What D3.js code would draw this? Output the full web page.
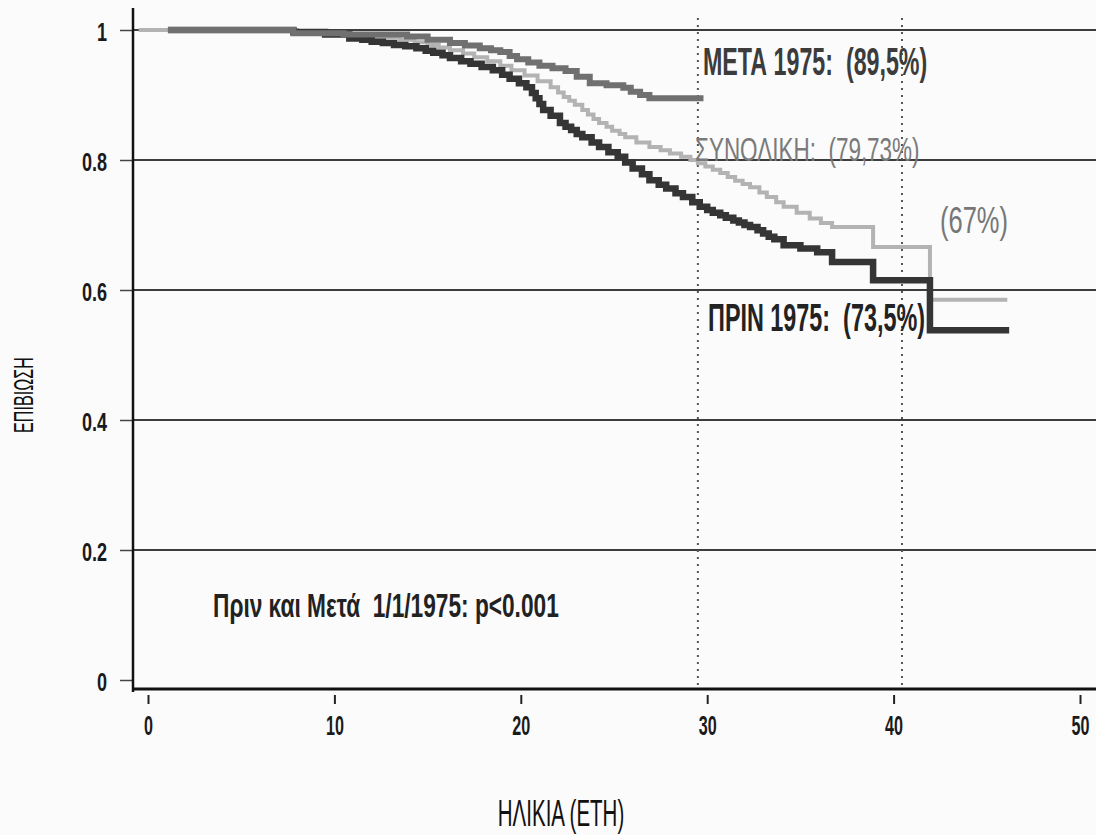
<!DOCTYPE html>
<html>
<head>
<meta charset="UTF-8" />
<title>Επιβίωση κατά ηλικία</title>
<script src="https://cdn.jsdelivr.net/npm/d3@7"></script>
<style>
    body { margin: 0; background: #fbfbfb; }
    svg { display: block; }
    text { font-family: "Liberation Sans", Arial, sans-serif; white-space: pre; }
</style>
</head>
<body>
<div id="chart"></div>
<script>
    // Kaplan-Meier curves (age in years, survival fraction)
    const totalAges = [-0.5, 8.0, 9.5, 10.8, 12.2, 13.5, 14.3, 15.0, 15.6, 16.2, 16.9, 17.5, 18.2, 18.9, 19.5, 20.2, 20.9, 21.6, 22.0, 22.3, 22.6, 22.9, 23.3, 23.6, 23.9, 24.2, 24.6, 24.9, 25.3, 25.6, 26.2, 26.9, 27.5, 28.0, 28.6, 29.1, 29.5, 29.9, 30.3, 30.7, 31.1, 31.5, 31.9, 32.3, 32.8, 33.2, 33.7, 34.1, 34.8, 35.5, 36.1, 36.7, 38.9, 41.95, 46.1];
    const totalSurv = [1.0, 0.997, 0.995, 0.993, 0.989, 0.985, 0.981, 0.977, 0.973, 0.969, 0.964, 0.958, 0.952, 0.945, 0.938, 0.93, 0.921, 0.912, 0.904, 0.897, 0.891, 0.885, 0.877, 0.87, 0.863, 0.857, 0.851, 0.845, 0.84, 0.835, 0.827, 0.82, 0.815, 0.81, 0.805, 0.80, 0.795, 0.79, 0.785, 0.78, 0.774, 0.768, 0.763, 0.758, 0.75, 0.743, 0.735, 0.728, 0.719, 0.71, 0.703, 0.697, 0.666, 0.585, 0.585];

    const beforeAges = [1.07, 7.8, 9.5, 10.8, 11.5, 12.0, 12.6, 13.2, 13.8, 14.4, 14.9, 15.3, 15.8, 16.2, 16.8, 17.3, 17.9, 18.5, 19.0, 19.4, 19.9, 20.3, 20.6, 20.8, 21.0, 21.2, 21.6, 22.1, 22.4, 22.7, 23.0, 23.3, 23.8, 24.2, 24.7, 25.2, 25.6, 26.0, 26.5, 26.9, 27.4, 27.8, 28.3, 28.7, 29.2, 29.6, 30.0, 30.3, 30.7, 31.0, 31.4, 31.7, 32.0, 32.3, 32.7, 33.0, 33.3, 33.6, 34.1, 35.0, 35.9, 36.7, 38.9, 41.95, 46.2];
    const beforeSurv = [1.0, 0.997, 0.993, 0.987, 0.985, 0.982, 0.98, 0.977, 0.975, 0.972, 0.968, 0.965, 0.961, 0.957, 0.952, 0.948, 0.943, 0.938, 0.931, 0.925, 0.918, 0.912, 0.903, 0.895, 0.886, 0.877, 0.868, 0.857, 0.851, 0.846, 0.84, 0.835, 0.827, 0.82, 0.812, 0.805, 0.796, 0.787, 0.778, 0.769, 0.762, 0.756, 0.749, 0.743, 0.735, 0.728, 0.723, 0.719, 0.715, 0.711, 0.707, 0.704, 0.70, 0.697, 0.692, 0.687, 0.682, 0.678, 0.669, 0.664, 0.658, 0.643, 0.615, 0.538, 0.538];

    const afterAges = [1.07, 7.8, 10.5, 13.9, 15.0, 16.2, 17.0, 17.8, 18.4, 18.9, 19.4, 19.8, 20.4, 21.0, 21.7, 22.4, 23.0, 23.7, 24.6, 25.5, 25.9, 26.4, 26.9, 29.8];
    const afterSurv = [1.0, 0.995, 0.993, 0.99, 0.985, 0.98, 0.976, 0.972, 0.969, 0.966, 0.96, 0.955, 0.95, 0.945, 0.941, 0.937, 0.928, 0.918, 0.915, 0.911, 0.905, 0.9, 0.895, 0.895];

    const xTicks = [0, 10, 20, 30, 40, 50];
    const yTicks = [0, 0.2, 0.4, 0.6, 0.8, 1];
    const yTickLabels = ["0", "0.2", "0.4", "0.6", "0.8", "1"];
    const markerAges = [29.5, 40.45];

    const labelAfter = "ΜΕΤΑ 1975:  (89,5%)";
    const labelTotal = "ΣΥΝΟΛΙΚΗ:  (79,73%)";
    const labelTotalEnd = "(67%)";
    const labelBefore = "ΠΡΙΝ 1975:  (73,5%)";
    const labelTest = "Πριν και Μετά  1/1/1975: p<0.001";
    const xTitle = "ΗΛΙΚΙΑ (ΕΤΗ)";
    const yTitle = "ΕΠΙΒΙΩΣΗ";

    const w = 1096;
    const h = 835;

    const x = d3.scaleLinear().domain([0, 50]).range([148, 1080]);
    const y = d3.scaleLinear().domain([0, 1]).range([680, 30]);

    const axisX = 133;
    const axisY = 689;

    const svg = d3.select('#chart')
        .append('svg')
        .attr('width', w)
        .attr('height', h);

    // horizontal grid lines
    svg.append('g')
        .selectAll('line')
        .data(yTicks.filter(d => d > 0))
        .enter()
        .append('line')
        .attr('x1', axisX)
        .attr('x2', w)
        .attr('y1', d => y(d))
        .attr('y2', d => y(d))
        .attr('stroke', '#3d3d3d')
        .attr('stroke-width', 1.8);

    // dotted marker lines
    svg.append('g')
        .selectAll('line')
        .data(markerAges)
        .enter()
        .append('line')
        .attr('x1', d => x(d))
        .attr('x2', d => x(d))
        .attr('y1', 18)
        .attr('y2', axisY)
        .attr('stroke', '#555')
        .attr('stroke-width', 2)
        .attr('stroke-dasharray', '2,5');

    // y axis
    const yAxis = d3.axisLeft(y)
        .tickValues(yTicks)
        .tickSize(13)
        .tickFormat((d, i) => yTickLabels[i]);

    const gy = svg.append('g')
        .attr('transform', 'translate(' + axisX + ',0)')
        .call(yAxis);
    gy.select('.domain').remove();
    gy.selectAll('.tick line').attr('stroke', '#444').attr('stroke-width', 1.5);
    gy.selectAll('.tick text')
        .attr('x', 0)
        .attr('dy', 0)
        .attr('transform', 'translate(-26,10) scale(0.95,1.32)')
        .attr('font-size', 19)
        .attr('font-weight', 'bold')
        .attr('fill', '#1a1a1a')
        .attr('font-family', '"Liberation Sans", Arial, sans-serif');

    svg.append('line')
        .attr('x1', axisX).attr('x2', axisX)
        .attr('y1', 8).attr('y2', axisY + 3)
        .attr('stroke', '#111')
        .attr('stroke-width', 2.5);

    // x axis
    const xAxis = d3.axisBottom(x)
        .tickValues(xTicks)
        .tickFormat(d3.format('d'));

    const gx = svg.append('g')
        .attr('transform', 'translate(0,' + axisY + ')')
        .call(xAxis);
    gx.select('.domain').remove();
    gx.selectAll('.tick line')
        .attr('y1', 6)
        .attr('y2', 15)
        .attr('stroke', '#222')
        .attr('stroke-width', 2);
    gx.selectAll('.tick text')
        .attr('y', 0)
        .attr('dy', 0)
        .attr('transform', 'translate(0,46) scale(0.85,1.5)')
        .attr('font-size', 19)
        .attr('font-weight', 'bold')
        .attr('fill', '#1a1a1a')
        .attr('font-family', '"Liberation Sans", Arial, sans-serif');

    svg.append('line')
        .attr('x1', axisX).attr('x2', w)
        .attr('y1', axisY).attr('y2', axisY)
        .attr('stroke', '#111')
        .attr('stroke-width', 3);

    // survival curves
    const line = d3.line()
        .x(d => x(d[0]))
        .y(d => y(d[1]))
        .curve(d3.curveStepAfter);

    const series = [
        { ages: totalAges, surv: totalSurv, color: '#b3b3b3', width: 4 },
        { ages: beforeAges, surv: beforeSurv, color: '#353535', width: 6.5 },
        { ages: afterAges, surv: afterSurv, color: '#707070', width: 6 }
    ];

    svg.append('g')
        .selectAll('path')
        .data(series)
        .enter()
        .append('path')
        .attr('d', s => line(d3.zip(s.ages, s.surv)))
        .attr('fill', 'none')
        .attr('stroke', s => s.color)
        .attr('stroke-width', s => s.width);

    // annotations
    function label(txt, px, py, size, weight, fill, sx, sy, anchor, rot) {
        svg.append('text')
            .attr('transform', 'translate(' + px + ',' + py + ')' + (rot ? ' rotate(' + rot + ')' : '') + ' scale(' + sx + ',' + sy + ')')
            .attr('text-anchor', anchor)
            .attr('font-size', size)
            .attr('font-weight', weight)
            .attr('fill', fill)
            .text(txt);
    }

    label(labelAfter, 703, 75, 28, 'bold', '#3c3c3c', 0.83, 1.4, 'start');
    label(labelTotal, 695, 161, 26, 'normal', '#7a7a7a', 0.865, 1.3, 'start');
    label(labelTotalEnd, 940, 233, 26, 'normal', '#777', 0.98, 1.45, 'start');
    label(labelBefore, 708, 331, 28, 'bold', '#222', 0.835, 1.4, 'start');
    label(labelTest, 213, 617, 26, 'bold', '#222', 0.873, 1.3, 'start');
    label(xTitle, 561, 826, 25, 'normal', '#111', 0.82, 1.45, 'middle');
    label(yTitle, 33, 395, 19, 'normal', '#111', 0.85, 1.45, 'middle', -90);
</script>
</body>
</html>
